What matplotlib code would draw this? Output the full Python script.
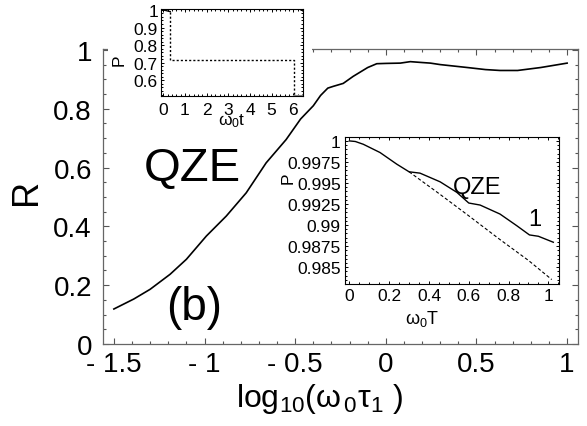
import matplotlib
matplotlib.use('Agg')
import matplotlib.pyplot as plt
from matplotlib.ticker import MultipleLocator
from matplotlib.patches import Rectangle

plt.rcParams['font.family'] = ['Liberation Sans', 'DejaVu Sans']
plt.rcParams['mathtext.fontset'] = 'custom'
plt.rcParams['mathtext.rm'] = 'Liberation Sans'
plt.rcParams['mathtext.it'] = 'Liberation Sans'

# main panel: R against log10(w0 tau1)
log_tau = [-1.5, -1.39, -1.30, -1.19, -1.10, -0.99, -0.88, -0.77, -0.66, -0.55,
           -0.47, -0.40, -0.36, -0.32, -0.29, -0.235, -0.18, -0.10, -0.05, 0.0,
           0.08, 0.135, 0.20, 0.246, 0.30, 0.45, 0.55, 0.63, 0.727, 0.854, 1.0]
R = [0.119, 0.153, 0.186, 0.237, 0.288, 0.367, 0.435, 0.514, 0.616, 0.695,
     0.765, 0.81, 0.845, 0.870, 0.876, 0.886, 0.91, 0.94, 0.953, 0.954,
     0.955, 0.960, 0.957, 0.955, 0.950, 0.940, 0.933, 0.930, 0.930, 0.940, 0.955]
x_ticks = [-1.5, -1, -0.5, 0, 0.5, 1]
x_ticklabels = ['- 1.5', '- 1', '- 0.5', '0', '0.5', '1']
y_ticks = [0, 0.2, 0.4, 0.6, 0.8, 1]
y_ticklabels = ['0', '0.2', '0.4', '0.6', '0.8', '1']

# upper inset: P against w0 t
t_solid = [0.0, 0.32]
p_solid = [1.0, 0.99]
t_dot = [0.32, 0.32, 6.05, 6.05]
p_dot = [0.99, 0.718, 0.718, 0.51]
t_grey = [6.05, 6.45]
p_grey = [0.512, 0.512]

# lower inset: P against w0 T
T_qze = [0.0, 0.03, 0.07, 0.154, 0.238, 0.30, 0.355, 0.456, 0.54, 0.60,
         0.657, 0.757, 0.841, 0.905, 0.95, 1.025]
P_qze = [1.0, 0.99993, 0.9996, 0.99862, 0.99724, 0.99633, 0.99617, 0.99514,
         0.99389, 0.99262, 0.99238, 0.99131, 0.98993, 0.98883, 0.98867, 0.98796]
T_free = [0.30, 0.45, 0.60, 0.75, 0.90, 1.017]
P_free = [0.99633, 0.99375, 0.99110, 0.98840, 0.98580, 0.98353]
p_ticks = [1, 0.9975, 0.995, 0.9925, 0.99, 0.9875, 0.985]
p_ticklabels = ['1', '0.9975', '0.995', '0.9925', '0.99', '0.9875', '0.985']

W, H = 587, 427


def box(l, t, r, b):
    # pixel box -> figure fraction
    return [l / W, 1 - b / H, (r - l) / W, (b - t) / H]


fig = plt.figure(figsize=(W / 100, H / 100), dpi=100)

ax = fig.add_axes(box(103, 50, 578, 345))
ax.set_zorder(0)
ax.plot(log_tau, R, color='k', lw=1.2)
ax.set_xlim(-1.56, 1.06)
ax.set_ylim(0, 1.003)
ax.set_xticks(x_ticks)
ax.set_xticklabels(x_ticklabels)
ax.set_yticks(y_ticks)
ax.set_yticklabels(y_ticklabels)
ax.xaxis.set_minor_locator(MultipleLocator(0.1))
ax.yaxis.set_minor_locator(MultipleLocator(0.05))
ax.tick_params(which='both', direction='in', top=True, right=True,
               color='#555555', width=0.8, labelsize=20)
ax.tick_params(which='major', length=4)
ax.tick_params(which='minor', length=2.2)
ax.tick_params(axis='y', pad=8)
ax.tick_params(axis='x', pad=5)
for s in ax.spines.values():
    s.set_color('#666666')
    s.set_linewidth(0.9)
ax.set_xlabel(r'$\mathregular{log_{10}(ω_{\,0}τ_1\ )}$', fontsize=23)
ax.xaxis.set_label_coords(0.455, -0.125)
ax.set_ylabel('R', fontsize=26)
ax.yaxis.set_label_coords(-0.125, 0.52)
ax.text(-1.07, 0.60, 'QZE', fontsize=34, ha='center', va='center')
ax.text(-1.06, 0.125, '(b)', fontsize=33, ha='center', va='center')

# white backing behind the upper inset
bg = Rectangle((108 / W, 1 - 104 / H), (312 - 108) / W, 104 / H,
               transform=fig.transFigure, facecolor='white', edgecolor='none',
               zorder=1)
fig.add_artist(bg)

ax1 = fig.add_axes(box(160.7, 10, 303.3, 97.3))
ax1.set_zorder(2)
ax1.plot(t_solid, p_solid, color='k', lw=1.0)
ax1.plot(t_dot, p_dot, color='k', lw=1.0, ls=(0, (1.5, 1.5)))
ax1.plot(t_grey, p_grey, color='#888888', lw=1.5)
ax1.set_xlim(-0.12, 6.46)
ax1.set_ylim(0.51, 1.005)
ax1.set_xticks(range(7))
ax1.set_yticks([0.6, 0.7, 0.8, 0.9, 1])
ax1.set_yticklabels(['0.6', '0.7', '0.8', '0.9', '1'])
ax1.xaxis.set_minor_locator(MultipleLocator(0.2))
ax1.yaxis.set_minor_locator(MultipleLocator(0.02))
ax1.tick_params(which='both', direction='in', top=True, right=True,
                width=0.7, labelsize=12.5, pad=2)
ax1.tick_params(axis='x', pad=4)
ax1.tick_params(which='major', length=2.5)
ax1.tick_params(which='minor', length=1.3)
ax1.set_xlabel(r'$\mathregular{ω_0t}$', fontsize=12.5)
ax1.xaxis.set_label_coords(0.50, -0.17)
fig.text(119 / W, 1 - 60 / H, 'P', fontsize=12.5, rotation=90,
         ha='center', va='center')

ax2 = fig.add_axes(box(345, 137.7, 559.3, 285))
ax2.set_zorder(2)
ax2.plot(T_qze, P_qze, color='k', lw=1.0)
ax2.plot(T_free, P_free, color='k', lw=0.8, ls=(0, (3, 2)))
ax2.set_xlim(-0.022, 1.055)
ax2.set_ylim(0.983, 1.0005)
ax2.set_xticks([0, 0.2, 0.4, 0.6, 0.8, 1])
ax2.set_xticklabels(['0', '0.2', '0.4', '0.6', '0.8', '1'])
ax2.set_yticks(p_ticks)
ax2.set_yticklabels(p_ticklabels)
ax2.xaxis.set_minor_locator(MultipleLocator(0.05))
ax2.yaxis.set_minor_locator(MultipleLocator(0.0005))
ax2.tick_params(which='both', direction='in', top=True, right=True,
                width=0.7, labelsize=12.5, pad=3)
ax2.tick_params(which='major', length=2.5)
ax2.tick_params(which='minor', length=1.3)
ax2.set_xlabel(r'$\mathregular{ω_0T}$', fontsize=13)
ax2.xaxis.set_label_coords(0.36, -0.16)
fig.text(288 / W, 1 - 178 / H, 'P', fontsize=12.5, rotation=90,
         ha='center', va='center')
ax2.text(0.64, 0.9945, 'QZE', fontsize=17, ha='center', va='center')
ax2.text(0.93, 0.9907, '1', fontsize=17, ha='center', va='center')

fig.savefig('out.png', dpi=100)
